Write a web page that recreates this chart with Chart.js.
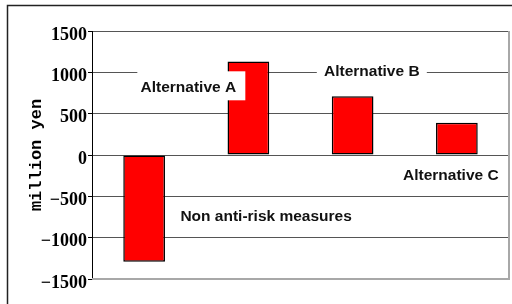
<!DOCTYPE html>
<html>
<head>
<meta charset="utf-8">
<script src="https://cdn.jsdelivr.net/npm/chart.js@4/dist/chart.umd.min.js"></script>
<style>
  body { margin: 0; background: #fff; }
  #wrap { width: 512px; height: 304px; }
</style>
</head>
<body>
<div id="wrap"><canvas id="riskChart" width="512" height="304"></canvas></div>
<script>
// Chart data
const categories = ['Non anti-risk measures', 'Alternative A', 'Alternative B', 'Alternative C'];
const values = [-1290, 1130, 710, 390];
const yTicks = [-1500, -1000, -500, 0, 500, 1000, 1500];
const yTitle = 'million yen';

// where each category name sits (category index, value), plus white box around it
const labelSpots = [
    { x: 1.17, y: -729, box: null },
    { x: 0.424, y: 831, box: [-51, -15, 108, 29] },
    { x: 2.184, y: 1018, box: [-55, -8, 110, 16] },
    { x: 2.942, y: -239, box: null }
];

const framePlugin = {
    id: 'frame',
    beforeDraw(chart) {
        const ctx = chart.ctx;
        ctx.save();
        ctx.strokeStyle = '#222';
        ctx.lineWidth = 1.5;
        ctx.beginPath();
        ctx.moveTo(7.5, 304);
        ctx.lineTo(7.5, 5.5);
        ctx.lineTo(512, 5.5);
        ctx.stroke();
        ctx.restore();
    },
    afterDraw(chart) {
        const ctx = chart.ctx;
        const a = chart.chartArea;
        ctx.save();
        ctx.strokeStyle = '#a8a8a8';
        ctx.lineWidth = 2;
        ctx.beginPath();
        ctx.moveTo(a.left, a.bottom);
        ctx.lineTo(a.right, a.bottom);
        ctx.lineTo(a.right, a.top);
        ctx.stroke();
        ctx.restore();
    }
};

const labelPlugin = {
    id: 'catLabels',
    afterDatasetsDraw(chart) {
        const ctx = chart.ctx;
        const xs = chart.scales.x;
        const ys = chart.scales.y;
        ctx.save();
        ctx.font = 'bold 15.5px "Liberation Sans", Arial, sans-serif';
        ctx.textAlign = 'center';
        ctx.textBaseline = 'middle';
        categories.forEach(function(name, i) {
            const spot = labelSpots[i];
            const px = xs.getPixelForValue(spot.x);
            const py = ys.getPixelForValue(spot.y);
            if (spot.box) {
                ctx.fillStyle = '#fff';
                ctx.fillRect(px + spot.box[0], py + spot.box[1], spot.box[2], spot.box[3]);
            }
            ctx.fillStyle = '#111';
            ctx.fillText(name, px, py + 1);
        });
        ctx.restore();
    }
};

new Chart(document.getElementById('riskChart'), {
    type: 'bar',
    data: {
        labels: categories,
        datasets: [{
            data: values,
            backgroundColor: '#ff0000',
            borderColor: '#000',
            borderWidth: 1.5,
            borderSkipped: false,
            barPercentage: 0.4,
            categoryPercentage: 1
        }]
    },
    options: {
        responsive: false,
        animation: false,
        layout: { padding: { top: 31, right: 3, bottom: 25, left: 0 } },
        plugins: {
            legend: { display: false },
            tooltip: { enabled: false }
        },
        scales: {
            x: { display: false },
            y: {
                min: yTicks[0],
                max: yTicks[yTicks.length - 1],
                afterBuildTicks: function(scale) {
                    scale.ticks = yTicks.map(function(v) { return { value: v }; });
                },
                afterFit: function(scale) {
                    scale.width = 92;
                },
                ticks: {
                    padding: 1,
                    labelOffset: 4,
                    color: '#000',
                    font: { family: '"Liberation Serif", serif', size: 18, weight: 'bold' },
                    callback: function(v) { return String(v).replace('-', '\u2212'); }
                },
                grid: {
                    color: '#555',
                    tickColor: '#000',
                    tickLength: 4
                },
                border: { color: '#000', width: 1 },
                title: {
                    display: true,
                    text: yTitle,
                    color: '#000',
                    padding: { top: 28, bottom: 0 },
                    font: { family: '"Liberation Mono", monospace', size: 17, weight: 'bold', lineHeight: 1 }
                }
            }
        }
    },
    plugins: [framePlugin, labelPlugin]
});
</script>
</body>
</html>
